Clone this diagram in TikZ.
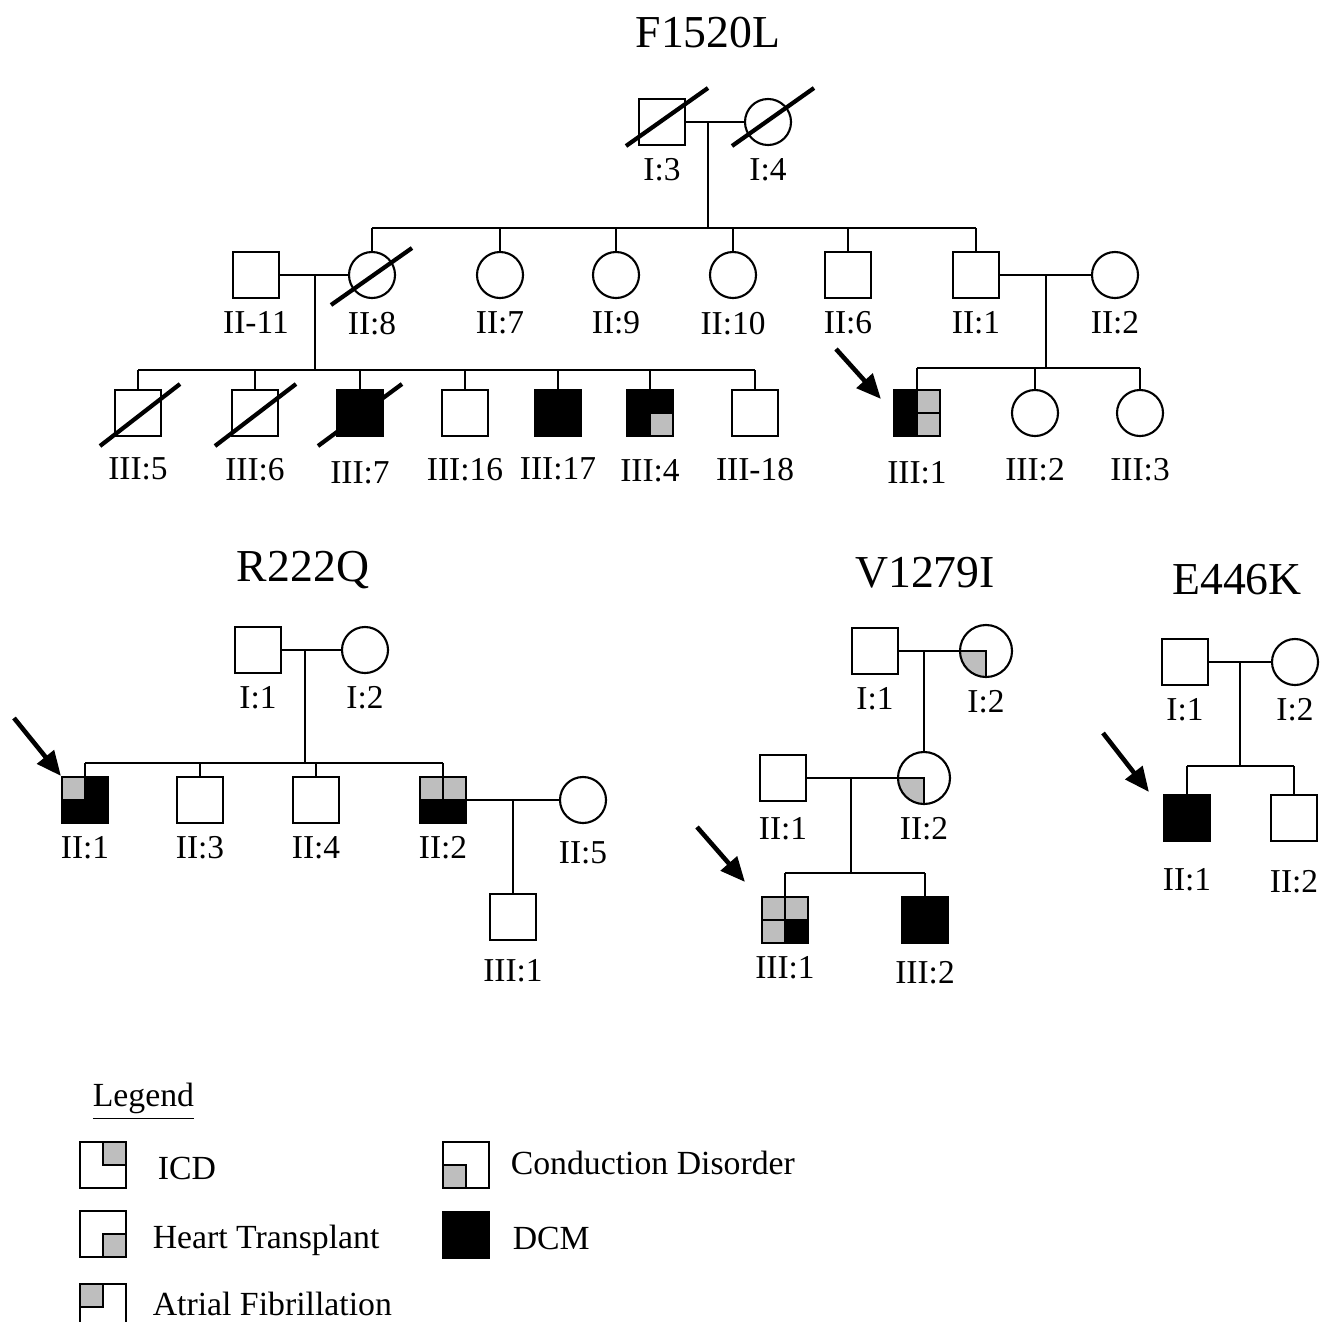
\documentclass[tikz,border=0pt]{standalone}
\usepackage{fontspec}
\setmainfont{Liberation Serif}
\usetikzlibrary{arrows.meta}
\definecolor{afgray}{RGB}{190,190,190}
\tikzset{
  male/.style={draw, rectangle, minimum size=0.46cm, inner sep=0pt, fill=white},
  female/.style={draw, circle, minimum size=0.46cm, inner sep=0pt, fill=white},
  dcm/.style={fill=black},
  qw/.style={},
  qb/.style={fill=black},
  qg/.style={fill=afgray, draw},
  quads/.style n args={4}{path picture={
    \path[#1] (path picture bounding box.north west) rectangle (path picture bounding box.center);
    \path[#2] (path picture bounding box.north east) rectangle (path picture bounding box.center);
    \path[#3] (path picture bounding box.south west) rectangle (path picture bounding box.center);
    \path[#4] (path picture bounding box.south east) rectangle (path picture bounding box.center);
  }},
  slash/.style={line width=1.2pt},
  proband/.style={-{Triangle[length=7pt,width=6pt]}, line width=1.3pt},
  title/.style={font=\fontsize{13}{15}\selectfont},
  leg/.style={anchor=west, font=\fontsize{9.6}{12}\selectfont},
  every label/.style={font=\fontsize{9.5}{11}\selectfont}
}
\begin{document}
\begin{tikzpicture}[x=0.01cm, y=-0.01cm, line width=0.6pt]
    \useasboundingbox (0,0) rectangle (1331,1321);
    \node[title] (t1) at (708,33) {F1520L};
    \node[title] (t2) at (303,570) {R222Q};
    \node[title] (t3) at (925,573) {V1279I};
    \node[title] (t4) at (1237,580) {E446K};
    \node[male, label=below:{I:3}] (f13) at (662,122) {};
    \node[female, label=below:{I:4}] (f14) at (768,122) {};
    \node[male, label=below:{II-11}] (f211) at (256,275) {};
    \node[female, label=below:{II:8}] (f28) at (372,275) {};
    \node[female, label=below:{II:7}] (f27) at (500,275) {};
    \node[female, label=below:{II:9}] (f29) at (616,275) {};
    \node[female, label=below:{II:10}] (f210) at (733,275) {};
    \node[male, label=below:{II:6}] (f26) at (848,275) {};
    \node[male, label=below:{II:1}] (f21) at (976,275) {};
    \node[female, label=below:{II:2}] (f22) at (1115,275) {};
    \node[male, label={[yshift=-2.3pt]below:{III:5}}] (f35) at (138,413) {};
    \node[male, label={[yshift=-2.3pt]below:{III:6}}] (f36) at (255,413) {};
    \node[male, dcm, label={[yshift=-3.4pt]below:{III:7}}] (f37) at (360,413) {};
    \node[male, label={[yshift=-2.3pt]below:{III:16}}] (f316) at (465,413) {};
    \node[male, dcm, label={[yshift=-2.3pt]below:{III:17}}] (f317) at (558,413) {};
    \node[male, quads={qb}{qb}{qb}{qg}, label={[yshift=-2.8pt]below:{III:4}}] (f34) at (650,413) {};
    \node[male, label={[yshift=-2.3pt]below:{III-18}}] (f318) at (755,413) {};
    \node[male, quads={qb}{qg}{qb}{qg}, label={[yshift=-3.4pt]below:{III:1}}] (f31) at (917,413) {};
    \node[female, label={[yshift=-2.3pt]below:{III:2}}] (f32) at (1035,413) {};
    \node[female, label={[yshift=-2.3pt]below:{III:3}}] (f33) at (1140,413) {};
    \coordinate (m1) at (708,122);
    \coordinate (s1) at (708,228);
    \coordinate (m2) at (315,275);
    \coordinate (s2) at (315,370);
    \coordinate (m3) at (1046,275);
    \coordinate (s3) at (1046,368);
    \coordinate (a1) at (836,349);
    \draw (f13) -- (f14);
    \draw (m1) -- (s1);
    \draw (f28 |- s1) -- (f21 |- s1);
    \draw (f28) -- (f28 |- s1);
    \draw (f27) -- (f27 |- s1);
    \draw (f29) -- (f29 |- s1);
    \draw (f210) -- (f210 |- s1);
    \draw (f26) -- (f26 |- s1);
    \draw (f21) -- (f21 |- s1);
    \draw (f211) -- (f28);
    \draw (m2) -- (s2);
    \draw (f35 |- s2) -- (f318 |- s2);
    \draw (f35) -- (f35 |- s2);
    \draw (f36) -- (f36 |- s2);
    \draw (f37) -- (f37 |- s2);
    \draw (f316) -- (f316 |- s2);
    \draw (f317) -- (f317 |- s2);
    \draw (f34) -- (f34 |- s2);
    \draw (f318) -- (f318 |- s2);
    \draw (f21) -- (f22);
    \draw (m3) -- (s3);
    \draw (f31 |- s3) -- (f33 |- s3);
    \draw (f31) -- (f31 |- s3);
    \draw (f32) -- (f32 |- s3);
    \draw (f33) -- (f33 |- s3);
    \draw[slash] ([shift={(-36,24)}]f13.center) -- ([shift={(46,-34)}]f13.center);
    \draw[slash] ([shift={(-36,24)}]f14.center) -- ([shift={(46,-34)}]f14.center);
    \draw[slash] ([shift={(-41,30)}]f28.center) -- ([shift={(40,-27)}]f28.center);
    \draw[slash] ([shift={(-38,33)}]f35.center) -- ([shift={(42,-29)}]f35.center);
    \draw[slash] ([shift={(-40,33)}]f36.center) -- ([shift={(41,-29)}]f36.center);
    \draw[slash] ([shift={(-42,33)}]f37.center) -- ([shift={(42,-29)}]f37.center);
    \draw[proband] (a1) -- ([shift={(-12,10)}]f31.north west);
    \node[male, label=below:{I:1}] (r11) at (258,650) {};
    \node[female, label=below:{I:2}] (r12) at (365,650) {};
    \node[male, quads={qg}{qb}{qb}{qb}, label=below:{II:1}] (r21) at (85,800) {};
    \node[male, label=below:{II:3}] (r23) at (200,800) {};
    \node[male, label=below:{II:4}] (r24) at (316,800) {};
    \node[male, quads={qg}{qg}{qb}{qb}, label=below:{II:2}] (r22) at (443,800) {};
    \node[female, label={[yshift=-1.4pt]below:{II:5}}] (r25) at (583,800) {};
    \node[male, label={[yshift=-1.7pt]below:{III:1}}] (r31) at (513,917) {};
    \coordinate (m4) at (305,650);
    \coordinate (s4) at (305,763);
    \coordinate (m5) at (513,800);
    \coordinate (a2) at (14,718);
    \draw (r11) -- (r12);
    \draw (m4) -- (s4);
    \draw (r21 |- s4) -- (r22 |- s4);
    \draw (r21) -- (r21 |- s4);
    \draw (r23) -- (r23 |- s4);
    \draw (r24) -- (r24 |- s4);
    \draw (r22) -- (r22 |- s4);
    \draw (r22) -- (r25);
    \draw (m5) -- (r31);
    \draw[proband] (a2) -- (r21.north west);
    \node[male, label=below:{I:1}] (v11) at (875,651) {};
    \node[female, minimum size=0.52cm, quads={qw}{qw}{qg}{qw}, label=below:{I:2}] (v12) at (986,651) {};
    \node[male, label={[yshift=-0.8pt]below:{II:1}}] (v21) at (783,778) {};
    \node[female, minimum size=0.52cm, quads={qw}{qw}{qg}{qw}, label=below:{II:2}] (v22) at (924,778) {};
    \node[male, quads={qg}{qg}{qg}{qb}, label=below:{III:1}] (v31) at (785,920) {};
    \node[male, dcm, label={[yshift=-1.4pt]below:{III:2}}] (v32) at (925,920) {};
    \coordinate (m6) at (924,651);
    \coordinate (m7) at (851,778);
    \coordinate (s7) at (851,873);
    \coordinate (a3) at (697,827);
    \draw (v11) -- (v12);
    \draw (m6) -- (v22);
    \draw (v21) -- (v22);
    \draw (m7) -- (s7);
    \draw (v31 |- s7) -- (v32 |- s7);
    \draw (v31) -- (v31 |- s7);
    \draw (v32) -- (v32 |- s7);
    \draw[proband] (a3) -- ([shift={(-16,-14)}]v31.north west);
    \node[male, label=below:{I:1}] (e11) at (1185,662) {};
    \node[female, label=below:{I:2}] (e12) at (1295,662) {};
    \node[male, dcm, label={[yshift=-4pt]below:{II:1}}] (e21) at (1187,818) {};
    \node[male, label={[yshift=-4.5pt]below:{II:2}}] (e22) at (1294,818) {};
    \coordinate (m8) at (1240,662);
    \coordinate (s8) at (1240,766);
    \coordinate (a4) at (1103,733);
    \draw (e11) -- (e12);
    \draw (m8) -- (s8);
    \draw (e21 |- s8) -- (e22 |- s8);
    \draw (e21) -- (e21 |- s8);
    \draw (e22) -- (e22 |- s8);
    \draw[proband] (a4) -- ([shift={(-14,-2)}]e21.north west);
    \node[leg] (lg) at (80,1102) {\underline{Legend}};
    \node[male, quads={qw}{qg}{qw}{qw}] (k1) at (103,1165) {};
    \node[male, quads={qw}{qw}{qw}{qg}] (k2) at (103,1234) {};
    \node[male, quads={qg}{qw}{qw}{qw}] (k3) at (103,1307) {};
    \node[male, quads={qw}{qw}{qg}{qw}] (k4) at (466,1165) {};
    \node[male, dcm] (k5) at (466,1235) {};
    \node[leg] (l1) at (145,1168) {ICD};
    \node[leg] (l2) at (140,1240) {Heart Transplant};
    \node[leg] (l3) at (140,1304) {Atrial Fibrillation};
    \node[leg] (l4) at (498,1163) {Conduction Disorder};
    \node[leg] (l5) at (500,1238) {DCM};
\end{tikzpicture}
\end{document}
